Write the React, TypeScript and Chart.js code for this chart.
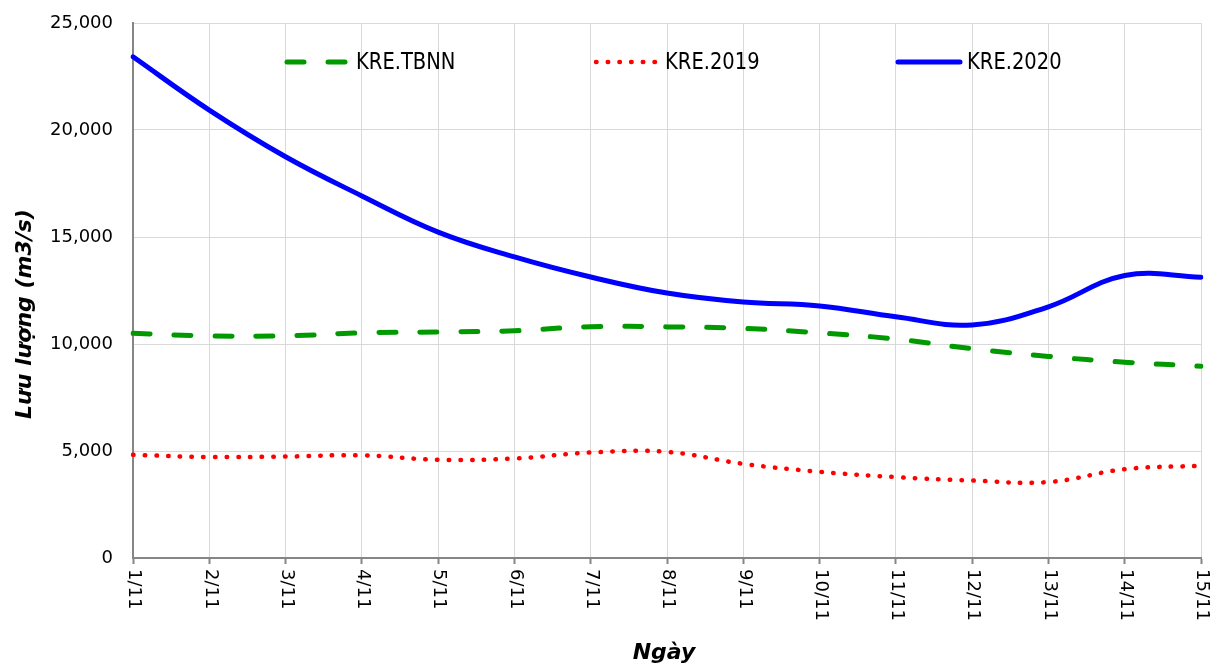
import React, { useEffect, useRef } from "react";
import { Chart, registerables } from "chart.js";

Chart.register(...registerables);

const days = ["1/11", "2/11", "3/11", "4/11", "5/11", "6/11", "7/11", "8/11", "9/11", "10/11", "11/11", "12/11", "13/11", "14/11", "15/11"];
const kreTBNN = [10500, 10380, 10380, 10520, 10560, 10620, 10810, 10800, 10730, 10520, 10230, 9780, 9420, 9150, 8960];
const kre2019 = [4820, 4720, 4740, 4800, 4590, 4650, 4930, 4960, 4400, 4030, 3780, 3620, 3550, 4150, 4310];
const kre2020 = [23420, 20930, 18750, 16920, 15230, 14070, 13130, 12380, 11960, 11780, 11270, 10890, 11740, 13200, 13120];
const yTicks = [0, 5000, 10000, 15000, 20000, 25000];
const seriesNames = ["KRE.TBNN", "KRE.2019", "KRE.2020"];
const yTitle = "Lưu lượng (m3/s)";
const xTitle = "Ngày";

const FONT = '"DejaVu Sans", Verdana, sans-serif';

const customText = {
  id: "customText",
  afterDraw(chart: any) {
    const ctx = chart.ctx;
    const area = chart.chartArea;
    const xs = chart.scales.x;
    ctx.save();
    ctx.fillStyle = "#000";
    // x tick labels rotated clockwise
    ctx.font = `18px ${FONT}`;
    ctx.textAlign = "left";
    ctx.textBaseline = "middle";
    days.forEach((d, i) => {
      const x = xs.getPixelForTick(i);
      ctx.save();
      ctx.translate(x + 1, area.bottom + 11);
      ctx.rotate(Math.PI / 2);
      ctx.fillText(d, 0, 0);
      ctx.restore();
    });
    // x title
    ctx.font = `italic bold 22px ${FONT}`;
    ctx.textAlign = "center";
    ctx.textBaseline = "middle";
    ctx.fillText(xTitle, (area.left + area.right) / 2 - 3, 653);
    // y title
    ctx.save();
    ctx.translate(25, 314);
    ctx.rotate(-Math.PI / 2);
    ctx.font = `italic bold 22px ${FONT}`;
    ctx.fillText(yTitle, 0, 0);
    ctx.restore();

    // legend
    const ly = 62;
    const starts = [area.left + 154, area.left + 463, area.left + 765];
    chart.data.datasets.forEach((ds: any, i: number) => {
      const x0 = starts[i];
      ctx.save();
      ctx.strokeStyle = ds.borderColor;
      ctx.lineWidth = ds.borderWidth;
      ctx.lineCap = ds.borderCapStyle || "butt";
      ctx.setLineDash(ds.borderDash || []);
      ctx.beginPath();
      ctx.moveTo(x0, ly);
      ctx.lineTo(x0 + 62, ly);
      ctx.stroke();
      ctx.restore();
      ctx.save();
      ctx.translate(x0 + 69, ly);
      ctx.scale(0.93, 1.1);
      ctx.font = `21px ${FONT}`;
      ctx.textAlign = "left";
      ctx.textBaseline = "middle";
      ctx.fillStyle = "#000";
      ctx.fillText(seriesNames[i], 0, 1);
      ctx.restore();
    });
    ctx.restore();
  },
};

export default function App() {
  const ref = useRef<HTMLCanvasElement>(null);
  useEffect(() => {
    if (!ref.current) return;
    const chart = new Chart(ref.current, {
      type: "line",
      data: {
        labels: days,
        datasets: [
          {
            label: seriesNames[0],
            data: kreTBNN,
            borderColor: "#009900",
            backgroundColor: "#009900",
            borderWidth: 5,
            borderDash: [17, 24],
            borderCapStyle: "round",
            pointRadius: 0,
            tension: 0.4,
            fill: false,
          },
          {
            label: seriesNames[1],
            data: kre2019,
            borderColor: "#ff0000",
            backgroundColor: "#ff0000",
            borderWidth: 4.5,
            borderDash: [0.5, 11.2],
            borderCapStyle: "round",
            pointRadius: 0,
            tension: 0.4,
            fill: false,
          },
          {
            label: seriesNames[2],
            data: kre2020,
            borderColor: "#0000ff",
            backgroundColor: "#0000ff",
            borderWidth: 5,
            borderCapStyle: "round",
            pointRadius: 0,
            tension: 0.4,
            fill: false,
          },
        ],
      },
      options: {
        responsive: false,
        animation: false,
        layout: { padding: { left: 0, right: 18, top: 23, bottom: 0 } },
        plugins: {
          legend: { display: false },
          tooltip: { enabled: false },
        },
        scales: {
          x: {
            type: "category",
            offset: false,
            afterFit: (scale: any) => {
              scale.height = 110;
              scale.paddingLeft = 0;
              scale.paddingRight = 0;
            },
            ticks: { display: false },
            grid: {
              color: "#d9d9d9",
              lineWidth: 1,
              drawTicks: true,
              tickLength: 6,
              tickColor: "#868686",
              tickWidth: 2,
            },
            border: { color: "#868686", width: 2 },
          },
          y: {
            min: 0,
            max: 25000,
            afterFit: (scale: any) => {
              scale.width = 133;
              scale.paddingTop = 0;
              scale.paddingBottom = 0;
            },
            afterBuildTicks: (scale: any) => {
              scale.ticks = yTicks.map((v) => ({ value: v }));
            },
            ticks: {
              padding: 20,
              color: "#000",
              font: { family: FONT, size: 18 },
              callback: (v: any) => Number(v).toLocaleString("en-US"),
            },
            grid: { color: "#d9d9d9", lineWidth: 1, drawTicks: false },
            border: { color: "#868686", width: 2 },
          },
        },
      },
      plugins: [customText],
    });
    return () => chart.destroy();
  }, []);
  return (
    <div style={{ position: "fixed", left: 0, top: 0, width: 1219, height: 668, background: "#fff" }}>
      <canvas ref={ref} width={1219} height={668} style={{ display: "block" }} />
    </div>
  );
}
